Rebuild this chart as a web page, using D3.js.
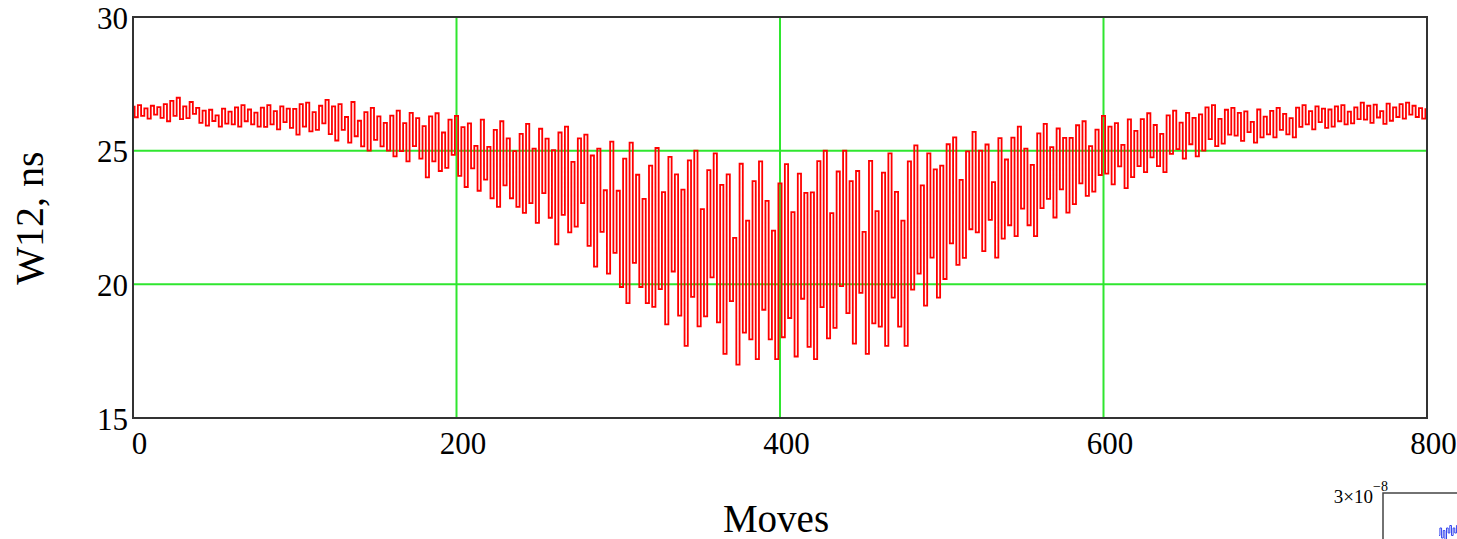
<!DOCTYPE html>
<html>
<head>
<meta charset="utf-8">
<script src="https://cdn.jsdelivr.net/npm/d3@7"></script>
<style>
  html, body { margin: 0; padding: 0; background: #fff; }
  svg { display: block; }
  text { font-family: "Liberation Serif", "Times New Roman", serif; fill: #000; }
</style>
</head>
<body>
<svg id="chart" width="1457" height="539"></svg>
<script>
// ---- data ----
const xDomain = [0, 800];
const yDomain = [15, 30];
const xTicks = [0, 200, 400, 600, 800];
const yTicks = [15, 20, 25, 30];
const xGrid = [200, 400, 600];
const yGrid = [20, 25];
const moveStep = 2; // one value every 2 moves
const w12 = [
  26.65,26.25,26.70,26.30,26.58,26.20,26.68,26.35,26.63,26.23,
  26.74,26.10,26.86,26.30,26.98,26.18,26.66,26.22,26.82,26.38,
  26.60,26.04,26.50,25.94,26.53,26.11,26.32,25.90,26.57,26.01,
  26.46,25.98,26.62,25.90,26.70,26.10,26.54,25.98,26.42,25.90,
  26.61,25.89,26.70,25.98,26.48,25.80,26.66,26.07,26.57,25.85,
  26.56,25.60,26.74,25.90,26.80,25.72,26.44,25.78,26.68,26.02,
  26.90,25.62,26.66,25.38,26.74,25.78,26.26,25.30,26.82,25.54,
  26.12,25.16,26.44,25.00,26.60,25.40,26.28,25.16,26.04,25.00,
  26.31,24.79,26.50,24.98,26.03,24.60,26.41,25.17,26.22,24.70,
  25.92,24.00,26.28,24.60,26.40,24.24,25.68,24.36,26.16,24.84,
  26.30,24.06,25.88,23.64,26.02,24.34,25.18,23.50,26.16,23.92,
  25.14,23.22,25.78,22.90,26.10,23.70,25.46,23.22,24.98,22.90,
  25.63,22.67,26.00,23.04,25.08,22.30,25.82,23.41,25.45,22.49,
  25.02,21.50,25.68,22.60,25.90,21.94,24.58,22.16,25.46,23.04,
  25.60,21.44,24.82,20.66,25.08,21.96,23.52,20.40,25.34,21.18,
  23.50,19.90,24.70,19.30,25.30,20.80,24.10,19.90,23.20,19.30,
  24.44,19.16,25.10,19.82,23.45,18.50,24.77,20.48,24.11,18.83,
  23.54,17.70,24.64,19.53,25.00,18.43,22.81,18.80,24.27,20.26,
  24.90,18.58,23.72,17.40,24.11,19.37,21.74,17.00,24.51,18.19,
  22.38,17.94,23.86,17.20,24.60,19.05,23.12,17.94,22.01,17.20,
  23.78,18.02,24.50,18.74,22.70,17.30,24.14,19.46,23.42,17.66,
  23.44,17.20,24.61,19.15,25.00,17.98,22.66,18.37,24.22,19.93,
  25.00,18.92,23.86,17.78,24.24,19.68,21.96,17.40,24.62,18.54,
  22.74,18.42,24.18,17.70,24.90,19.50,23.46,18.42,22.38,17.70,
  24.60,19.80,25.20,20.40,23.70,19.20,24.90,21.00,24.30,19.50,
  24.44,20.20,25.24,21.53,25.50,20.73,23.91,20.99,24.97,22.06,
  25.70,21.94,25.00,21.24,25.23,22.41,23.82,21.00,25.47,21.71,
  24.67,22.21,25.49,21.80,25.90,22.83,25.08,22.21,24.47,21.80,
  25.65,22.85,26.00,23.20,25.13,22.50,25.83,23.55,25.48,22.68,
  25.48,23.00,25.95,23.78,26.10,23.31,25.17,23.47,25.79,24.09,
  26.30,24.14,25.90,23.74,26.03,24.41,25.22,23.60,26.17,24.01,
  25.74,24.42,26.18,24.20,26.40,24.75,25.96,24.42,25.63,24.20,
  26.32,24.88,26.50,25.06,26.05,24.70,26.41,25.24,26.23,24.79,
  26.36,25.00,26.62,25.43,26.70,25.17,26.19,25.26,26.53,25.60,
  26.60,25.56,26.41,25.37,26.47,25.69,26.08,25.30,26.54,25.50,
  26.27,25.61,26.49,25.50,26.60,25.78,26.38,25.61,26.22,25.50,
  26.61,25.89,26.70,25.98,26.48,25.80,26.66,26.07,26.57,25.85,
  26.54,25.90,26.66,26.10,26.70,25.98,26.46,26.02,26.62,26.18,
  26.80,26.16,26.68,26.04,26.72,26.24,26.48,26.00,26.76,26.12,
  26.62,26.26,26.74,26.20,26.80,26.35,26.68,26.26,26.59,26.20,
  26.55
];
const xLabel = "Moves";
const yLabel = "W12, ns";
// second (cut-off) chart in the lower-right corner
const miniYTop = "3×10";
const miniYExp = "−8";
const miniDomain = [0, 3e-8];
const miniXDomain = [0, 800];
const miniValues = [2.15e-8, 2.3e-8, 2.1e-8, 2.25e-8, 2.05e-8, 2.3e-8, 2.2e-8, 2.35e-8, 2.15e-8, 2.3e-8, 2.2e-8, 2.35e-8];

// ---- drawing ----
const svg = d3.select("#chart");
const L = 133, R = 1427, T = 17, B = 418;
const x = d3.scaleLinear().domain(xDomain).range([L, R]);
const y = d3.scaleLinear().domain(yDomain).range([B, T]);

const gridColor = "#2fe62f";
// grid
svg.append("g").selectAll("line").data(xGrid).join("line")
  .attr("x1", d => x(d)).attr("x2", d => x(d))
  .attr("y1", T).attr("y2", B)
  .attr("stroke", gridColor).attr("stroke-width", 2);
svg.append("g").selectAll("line").data(yGrid).join("line")
  .attr("x1", L).attr("x2", R)
  .attr("y1", d => y(d)).attr("y2", d => y(d))
  .attr("stroke", gridColor).attr("stroke-width", 2);

// series
const line = d3.line()
  .x((d, i) => x(i * moveStep))
  .y(d => y(d))
  .curve(d3.curveStep);
svg.append("path").datum(w12)
  .attr("d", line)
  .attr("fill", "none")
  .attr("stroke", "#ff0000")
  .attr("stroke-width", 1.8)
  .attr("stroke-linejoin", "miter");

// frame
svg.append("rect")
  .attr("x", L).attr("y", T).attr("width", R - L).attr("height", B - T)
  .attr("fill", "none").attr("stroke", "#333").attr("stroke-width", 2);

// axes (labels only, via d3 axes)
const xAxis = svg.append("g").attr("transform", `translate(6,${B})`)
  .call(d3.axisBottom(x).tickValues(xTicks).tickSize(0).tickPadding(14).tickFormat(d3.format("d")));
xAxis.select(".domain").remove();
xAxis.selectAll("text").attr("font-size", 31).attr("dy", "0.71em")
  .style("font-family", '"Liberation Serif", serif').attr("fill", "#000");

const yAxis = svg.append("g").attr("transform", `translate(${L - 5},0)`)
  .call(d3.axisLeft(y).tickValues(yTicks).tickSize(0).tickPadding(0).tickFormat(d3.format("d")));
yAxis.select(".domain").remove();
yAxis.selectAll("text").attr("font-size", 31).attr("dy", "0.36em")
  .style("font-family", '"Liberation Serif", serif').attr("fill", "#000");

// axis titles
svg.append("text").attr("x", 776).attr("y", 532)
  .attr("text-anchor", "middle").attr("font-size", 39).text(xLabel);
svg.append("text")
  .attr("transform", "translate(43,218) rotate(-90)")
  .attr("text-anchor", "middle").attr("font-size", 40).text(yLabel);

// cut-off second chart in the lower-right corner
const mL = 1383, mT = 493;
const mx = d3.scaleLinear().domain(miniXDomain).range([mL, mL + 330]);
const my = d3.scaleLinear().domain(miniDomain).range([mT + 150, mT]);
svg.append("path").datum(miniValues)
  .attr("d", d3.line().x((d, i) => mx(136 + i * 4)).y(d => my(d)).curve(d3.curveStep))
  .attr("fill", "none").attr("stroke", "#3344ee").attr("stroke-width", 1);
svg.append("path")
  .attr("d", `M${mL},539 V${mT} H1457`)
  .attr("fill", "none").attr("stroke", "#444").attr("stroke-width", 1.5);
svg.append("text").attr("x", 1373).attr("y", 503)
  .attr("text-anchor", "end").attr("font-size", 19).text(miniYTop);
svg.append("text").attr("x", 1373).attr("y", 491).attr("font-size", 14).text(miniYExp);
</script>
</body>
</html>
